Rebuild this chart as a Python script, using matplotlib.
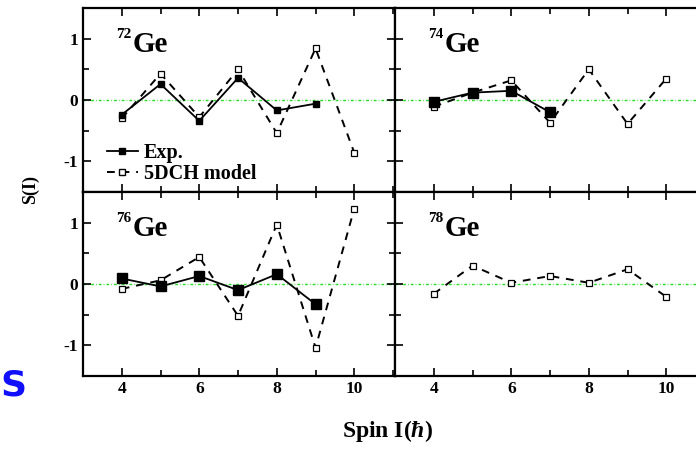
import numpy as np
import matplotlib
matplotlib.use('Agg')
import matplotlib.pyplot as plt
from matplotlib.ticker import MultipleLocator
from matplotlib.lines import Line2D

plt.rcParams.update({
    'font.family': 'Liberation Serif',
    'font.weight': 'bold',
    'mathtext.fontset': 'custom',
    'mathtext.rm': 'Liberation Serif:bold',
    'mathtext.it': 'Liberation Serif:bold:italic',
    'mathtext.bf': 'Liberation Serif:bold',
})

# spin values
SPIN_EXP_72 = [4, 5, 6, 7, 8, 9]
EXP_72 = [-0.24, 0.26, -0.34, 0.36, -0.17, -0.06]
SPIN_EXP_74 = [4, 5, 6, 7]
EXP_74 = [-0.03, 0.12, 0.15, -0.20]
SPIN_EXP_76 = [4, 5, 6, 7, 8, 9]
EXP_76 = [0.09, -0.04, 0.13, -0.10, 0.16, -0.33]

SPIN_MODEL = [4, 5, 6, 7, 8, 9, 10]
MODEL_72 = [-0.30, 0.43, -0.28, 0.50, -0.54, 0.84, -0.86]
MODEL_74 = [-0.11, 0.12, 0.32, -0.37, 0.50, -0.39, 0.35]
MODEL_76 = [-0.08, 0.06, 0.44, -0.52, 0.97, -1.04, 1.23]
MODEL_78 = [-0.16, 0.30, 0.02, 0.13, 0.02, 0.24, -0.21]

PANELS = [
    ('72', SPIN_EXP_72, EXP_72, MODEL_72, 5),
    ('74', SPIN_EXP_74, EXP_74, MODEL_74, 7.5),
    ('76', SPIN_EXP_76, EXP_76, MODEL_76, 7.5),
    ('78', None, None, MODEL_78, 0),
]

W, H = 696, 449
fig = plt.figure(figsize=(W / 100, H / 100), dpi=100)

left, pw = 83 / W, 312 / W
ph = 184 / H
bottoms = [(H - 192) / H, (H - 376) / H]
positions = [
    [left, bottoms[0], pw, ph],
    [left + pw, bottoms[0], pw, ph],
    [left, bottoms[1], pw, ph],
    [left + pw, bottoms[1], pw, ph],
]

for i, (mass, sx, sy, model, ms) in enumerate(PANELS):
    ax = fig.add_axes(positions[i])
    ax.axhline(0, color='#22dd22', lw=1.0, ls=(0, (2, 1.5, 0.5, 1.5)), zorder=1)
    ax.plot(SPIN_MODEL, model, ls=(0, (4, 3.5)), color='black', lw=1.4,
            marker='s', ms=4.5, mfc='white', mec='black', mew=0.9, zorder=2)
    if sx is not None:
        ax.plot(sx, sy, '-', color='black', lw=1.3, marker='s', ms=ms,
                mfc='black', mec='black', zorder=3)
    ax.set_xlim(3, 11.05)
    ax.set_ylim(-1.5, 1.5)
    ax.xaxis.set_major_locator(MultipleLocator(2))
    ax.xaxis.set_minor_locator(MultipleLocator(1))
    ax.yaxis.set_major_locator(MultipleLocator(1))
    ax.yaxis.set_minor_locator(MultipleLocator(0.5))
    ax.tick_params(which='both', direction='in', top=True, right=True,
                   width=1.2, labelsize=12.5)
    ax.tick_params(which='major', length=5.5)
    ax.tick_params(which='minor', length=4)
    for sp in ax.spines.values():
        sp.set_linewidth(1.6)
    if i < 2:
        ax.tick_params(labelbottom=False)
    if i % 2 == 1:
        ax.tick_params(labelleft=False)
    else:
        ax.set_yticks([-1, 0, 1])
        ax.set_yticklabels(['-1', '0', '1'])

    # nucleus label: small superscript mass number + element
    ax.text(0.106, 0.835, mass, transform=ax.transAxes,
            fontsize=11, fontweight='bold', va='baseline', ha='left')
    ax.text(0.158, 0.762, 'Ge', transform=ax.transAxes,
            fontsize=21, fontweight='bold', va='baseline', ha='left')

    if i == 0:
        handles = [
            Line2D([], [], color='black', lw=1.3, marker='s', ms=5,
                   mfc='black'),
            Line2D([], [], color='black', lw=1.4, ls=(0, (4, 3.5)),
                   marker='s', ms=4.5, mfc='white'),
        ]
        ax.legend(handles, ['Exp.', '5DCH model'], loc='lower left',
                  bbox_to_anchor=(0.02, -0.055), frameon=False,
                  prop={'size': 14.5, 'weight': 'bold'},
                  handlelength=1.5, handletextpad=0.3, labelspacing=0.05)

fig.text(30 / W, 1 - 190 / H, 'S(I)', rotation=90, fontsize=13,
         fontweight='bold', ha='center', va='center')
fig.text(387 / W, 1 - 431 / H, r'Spin I($\mathit{\hbar}$)', fontsize=17,
         fontweight='bold', ha='center', va='center')
fig.text(0.5 / W, 1 - 386 / H, 'S', color='#1010ff', fontsize=26,
         fontweight='bold', family='DejaVu Sans', ha='left', va='center')

fig.savefig('out.png', dpi=100)
